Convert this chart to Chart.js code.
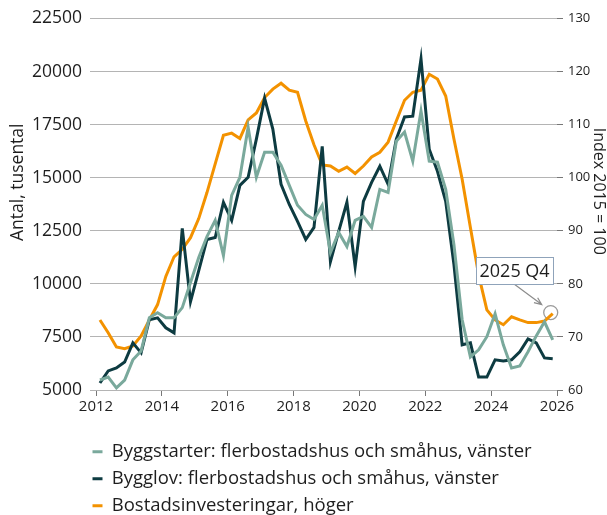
<!DOCTYPE html>
<html>
<head>
<meta charset="utf-8">
<script src="https://cdn.jsdelivr.net/npm/chart.js@4"></script>
<style>
  html, body { margin: 0; padding: 0; background: #fff; }
</style>
</head>
<body>
<canvas id="chart" width="607" height="515"></canvas>
<script>
// quarterly categories 2012 Q1 .. 2025 Q4
var quarters = [];
for (var yr = 2012; yr <= 2025; yr++) {
    for (var q = 1; q <= 4; q++) quarters.push(yr + ' Q' + q);
}

var byggstarter = [5470, 5610, 5100, 5470, 6420, 6840, 8400, 8640, 8400, 8400, 8880, 10060, 11240, 12230,
    12990, 11330, 14170, 15020, 17380, 15020, 16200, 16200, 15590, 14640, 13700, 13270, 13030, 13700,
    11470, 12420, 11760, 12990, 13180, 12660, 14450, 14310, 16720, 17150, 15780, 18140, 15780, 15730,
    14450, 11850, 8310, 6560, 6890, 7510, 8590, 7130, 6040, 6130, 6800, 7550, 8210, 7360];

var bygglov = [5330, 5900, 6040, 6320, 7220, 6750, 8310, 8400, 7930, 7690, 12610, 9160, 10620, 12090,
    12180, 13840, 12990, 14640, 15020, 16820, 18750, 17290, 14690, 13740, 12940, 12090, 12660, 16480,
    11050, 12470, 13840, 10810, 13890, 14780, 15540, 14690, 16820, 17860, 17900, 20600, 16340, 15300,
    13890, 10910, 7130, 7220, 5610, 5610, 6420, 6370, 6420, 6800, 7410, 7220, 6510, 6470];

var investeringar = [73.2, 70.8, 68.1, 67.8, 68.3, 70.2, 73.2, 76.1, 81.4, 85.1, 86.5, 88.7, 92.3, 97.2,
    102.6, 108.0, 108.4, 107.4, 110.9, 112.2, 115.1, 116.7, 117.8, 116.5, 116.1, 110.7, 106.2, 102.4,
    102.2, 101.2, 102.0, 100.8, 102.2, 103.9, 104.8, 106.7, 110.7, 114.6, 116.1, 116.5, 119.5, 118.6,
    115.4, 107.3, 99.7, 90.6, 81.7, 75.1, 73.2, 72.3, 73.8, 73.2, 72.7, 72.7, 73.0, 74.4];

var yearTicks = [2012, 2014, 2016, 2018, 2020, 2022, 2024, 2026];
var leftTicks = [5000, 7500, 10000, 12500, 15000, 17500, 20000, 22500];
var rightTicks = [60, 70, 80, 90, 100, 110, 120, 130];

var leftTitle = 'Antal, tusental';
var rightTitle = 'Index 2015 = 100';
var calloutText = '2025 Q4';

function quarterX(label) {
    var parts = label.split(' Q');
    return Number(parts[0]) + (Number(parts[1]) - 1) / 4 + 0.12;
}

function toPoints(values) {
    return values.map(function(v, i) { return { x: quarterX(quarters[i]), y: v }; });
}

var font = '"Open Sans", "Noto Sans", sans-serif';
var textColor = '#1e1e1e';
var gridColor = '#b4b4b4';

// puts the legend under the plot, left edge near the axis
var placeLegend = {
    id: 'placeLegend',
    afterLayout: function(chart) {
        var lg = chart.legend;
        var w = lg.width, h = lg.height;
        lg.left = chart.chartArea.left - 12;
        lg.right = lg.left + w;
        lg.top = 434;
        lg.bottom = lg.top + h;
    }
};

// axis titles, sitting a bit above the middle like the original
var axisTitles = {
    id: 'axisTitles',
    afterDraw: function(chart) {
        var a = chart.chartArea;
        var mid = (a.top + a.bottom) / 2;
        var ctx = chart.ctx;
        ctx.save();
        ctx.fillStyle = textColor;
        ctx.textAlign = 'center';
        ctx.textBaseline = 'middle';
        ctx.font = '17.5px ' + font;
        ctx.translate(a.left - 78, mid - 22);
        ctx.rotate(-Math.PI / 2);
        ctx.fillText(leftTitle, 0, 0);
        ctx.restore();

        ctx.save();
        ctx.fillStyle = textColor;
        ctx.textAlign = 'center';
        ctx.textBaseline = 'middle';
        ctx.font = '16px ' + font;
        ctx.translate(chart.width - 8, mid - 13);
        ctx.rotate(Math.PI / 2);
        ctx.fillText(rightTitle, 0, 0);
        ctx.restore();
    }
};

// marked last quarter: circle, arrow and boxed label
var callout = {
    id: 'callout',
    beforeDatasetsDraw: function(chart) {
        var meta = chart.getDatasetMeta(2);
        var pt = meta.data[meta.data.length - 1];
        var ctx = chart.ctx;
        ctx.save();
        ctx.strokeStyle = '#9a9a9a';
        ctx.lineWidth = 1.3;
        ctx.beginPath();
        ctx.arc(pt.x - 2, pt.y - 1, 7, 0, Math.PI * 2);
        ctx.stroke();
        ctx.restore();
    },
    afterDatasetsDraw: function(chart) {
        var meta = chart.getDatasetMeta(2);
        var pt = meta.data[meta.data.length - 1];
        var px = pt.x, py = pt.y;
        var ctx = chart.ctx;
        ctx.save();
        // arrow
        var x0 = px - 38, y0 = py - 29, x1 = px - 11, y1 = py - 9;
        ctx.strokeStyle = '#8c8c8c';
        ctx.lineWidth = 1.2;
        ctx.beginPath();
        ctx.moveTo(x0, y0);
        ctx.lineTo(x1, y1);
        var ang = Math.atan2(y1 - y0, x1 - x0);
        ctx.moveTo(x1 - 8 * Math.cos(ang - 0.4), y1 - 8 * Math.sin(ang - 0.4));
        ctx.lineTo(x1, y1);
        ctx.lineTo(x1 - 8 * Math.cos(ang + 0.4), y1 - 8 * Math.sin(ang + 0.4));
        ctx.stroke();
        // box
        var bx = Math.round(px - 77) + 0.5, by = Math.round(py - 57) + 0.5;
        ctx.fillStyle = '#ffffff';
        ctx.fillRect(bx, by, 77, 27);
        ctx.strokeStyle = '#8fa3ba';
        ctx.lineWidth = 1;
        ctx.strokeRect(bx, by, 77, 27);
        ctx.fillStyle = textColor;
        ctx.font = '18px ' + font;
        ctx.textBaseline = 'middle';
        ctx.fillText(calloutText, bx + 3, by + 14);
        ctx.restore();
    }
};

var ctx = document.getElementById('chart').getContext('2d');

var chart = new Chart(ctx, {
    type: 'line',
    data: {
        datasets: [{
            label: 'Byggstarter: flerbostadshus och småhus, vänster',
            data: toPoints(byggstarter),
            borderColor: '#7aa99c',
            backgroundColor: '#7aa99c',
            borderWidth: 3,
            yAxisID: 'y'
        }, {
            label: 'Bygglov: flerbostadshus och småhus, vänster',
            data: toPoints(bygglov),
            borderColor: '#0d3b41',
            backgroundColor: '#0d3b41',
            borderWidth: 3,
            yAxisID: 'y'
        }, {
            label: 'Bostadsinvesteringar, höger',
            data: toPoints(investeringar),
            borderColor: '#f39200',
            backgroundColor: '#f39200',
            borderWidth: 3,
            yAxisID: 'y1'
        }]
    },
    options: {
        responsive: false,
        animation: false,
        devicePixelRatio: 1,
        elements: {
            line: { tension: 0, borderJoinStyle: 'miter' },
            point: { radius: 0, hoverRadius: 0 }
        },
        layout: { padding: { top: 18, left: 8, right: 2, bottom: 0 } },
        plugins: {
            tooltip: { enabled: false },
            legend: {
                position: 'bottom',
                align: 'start',
                labels: {
                    font: { family: font, size: 18.5 },
                    color: textColor,
                    usePointStyle: true,
                    pointStyle: 'line',
                    pointStyleWidth: 10,
                    padding: 8.5
                }
            }
        },
        scales: {
            x: {
                type: 'linear',
                min: 2012,
                max: 2026,
                afterBuildTicks: function(s) { s.ticks = yearTicks.map(function(v) { return { value: v }; }); },
                afterFit: function(s) { s.height = 34; },
                grid: { drawOnChartArea: false, tickLength: 6, color: '#777' },
                border: { display: false },
                ticks: {
                    font: { family: font, size: 15 },
                    color: textColor,
                    padding: 2,
                    maxRotation: 0,
                    callback: function(v) { return String(v); }
                }
            },
            y: {
                position: 'left',
                min: 5000,
                max: 22500,
                afterBuildTicks: function(s) { s.ticks = leftTicks.map(function(v) { return { value: v }; }); },
                afterFit: function(s) { s.width = 88; },
                grid: { color: gridColor, tickLength: 6 },
                border: { display: false },
                ticks: {
                    font: { family: font, size: 17.5 },
                    color: textColor,
                    padding: 8,
                    callback: function(v) { return String(v); }
                }
            },
            y1: {
                position: 'right',
                min: 60,
                max: 130,
                afterBuildTicks: function(s) { s.ticks = rightTicks.map(function(v) { return { value: v }; }); },
                afterFit: function(s) { s.width = 48; },
                grid: { drawOnChartArea: false, color: '#777', tickLength: 6 },
                border: { display: false },
                ticks: {
                    font: { family: font, size: 13 },
                    color: textColor,
                    padding: 5
                }
            }
        }
    },
    plugins: [placeLegend, axisTitles, callout]
});
</script>
</body>
</html>
